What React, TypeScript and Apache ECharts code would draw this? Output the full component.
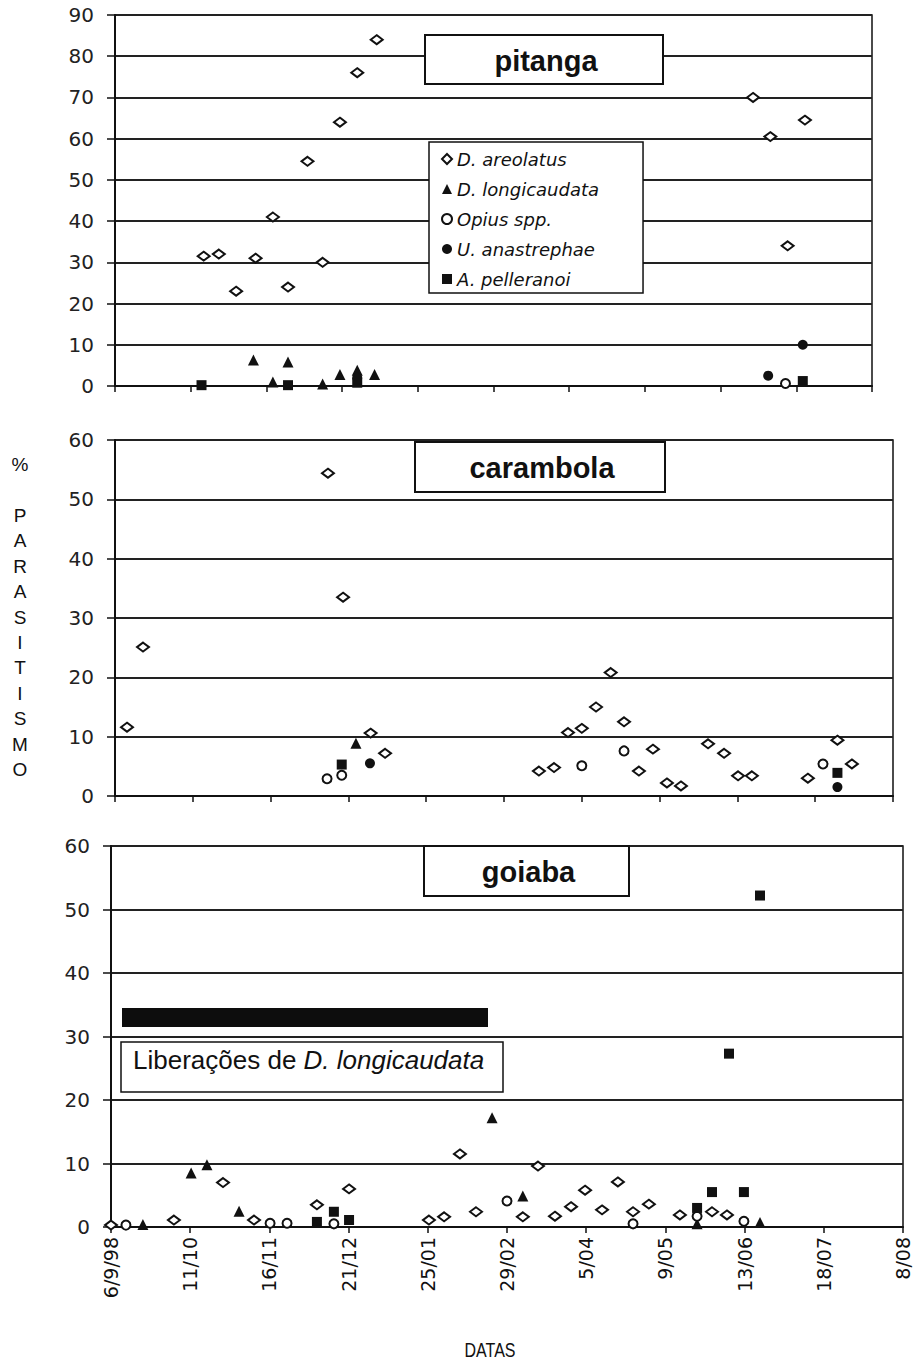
import React, { useEffect, useRef } from 'react';
import * as echarts from 'echarts';

// Tick labels (x axis: days since 6/9/98, one tick every 35 days)
const dateLabels = ['6/9/98', '11/10', '16/11', '21/12', '25/01', '29/02', '5/04', '9/05', '13/06', '18/07', '8/08'];
const seriesNames = ['D. areolatus', 'D. longicaudata', 'Opius spp.', 'U. anastrephae', 'A. pelleranoi'];
const fruitNames = ['pitanga', 'carambola', 'goiaba'];

// pitanga  [day, % parasitism]
const pitAreolatus = [[41, 31.5], [48, 32], [56, 23], [65, 31], [73, 41], [80, 24], [89, 54.5], [96, 30], [104, 64], [112, 76], [121, 84], [295, 70], [303, 60.5], [311, 34], [319, 64.5]];
const pitLongicaudata = [[64, 6.3], [73, 1], [80, 5.8], [96, 0.5], [104, 2.8], [112, 3.8], [120, 2.8]];
const pitOpius = [[310, 0.6]];
const pitAnastrephae = [[112, 2], [302, 2.5], [318, 10]];
const pitPelleranoi = [[40, 0.2], [80, 0.2], [112, 0.8], [318, 1.2]];

// carambola
const carAreolatus = [[5.4, 11.6], [12.6, 25.1], [95.8, 54.4], [102.6, 33.5], [115, 10.6], [121.5, 7.2], [190.7, 4.2], [197.5, 4.8], [203.8, 10.7], [210, 11.4], [216.4, 15], [223, 20.8], [229, 12.5], [235.7, 4.2], [242, 7.9], [248.3, 2.2], [254.6, 1.7], [266.8, 8.8], [274, 7.2], [280.3, 3.4], [286.5, 3.4], [311.7, 3], [325, 9.4], [331.5, 5.4]];
const carLongicaudata = [[108.4, 8.9]];
const carOpius = [[95.4, 2.9], [102, 3.5], [210, 5.1], [229, 7.6], [318.5, 5.4]];
const carAnastrephae = [[114.7, 5.5], [325, 1.5]];
const carPelleranoi = [[102, 5.3], [325, 3.9]];

// goiaba
const goiAreolatus = [[0, 0.3], [27.8, 1.1], [49.5, 7], [63.2, 1.1], [91, 3.5], [105.2, 6], [140.5, 1.1], [147.2, 1.6], [154.2, 11.5], [161.3, 2.4], [182, 1.6], [188.7, 9.6], [196.2, 1.7], [203.3, 3.2], [209.5, 5.8], [217, 2.7], [224, 7.1], [230.7, 2.4], [237.7, 3.6], [251.4, 1.9], [265.6, 2.4], [272.2, 1.9]];
const goiLongicaudata = [[14.1, 0.4], [35.4, 8.5], [42.4, 9.8], [56.6, 2.5], [168.4, 17.2], [182, 4.9], [259, 0.5], [286.8, 0.7]];
const goiOpius = [[6.6, 0.3], [70.3, 0.6], [77.8, 0.6], [98.5, 0.5], [175, 4.1], [230.7, 0.5], [259, 1.7], [279.7, 0.9]];
const goiAnastrephae: number[][] = [];
const goiPelleranoi = [[91, 0.8], [98.5, 2.4], [105.2, 1.1], [259, 3], [265.6, 5.5], [273.1, 27.3], [279.7, 5.5], [286.8, 52.2]];

const yMaxes = [90, 60, 60];

const FONT = '"Liberation Sans", Arial, Helvetica, sans-serif';
const WIDE = '"DejaVu Sans", Verdana, sans-serif';
const INK = '#111';

export default function App() {
  const ref = useRef<HTMLDivElement>(null);
  useEffect(() => {
    document.body.style.margin = '0';
    const chart = echarts.init(ref.current!, null, { renderer: 'svg' });

    const panels = [
      [pitAreolatus, pitLongicaudata, pitOpius, pitAnastrephae, pitPelleranoi],
      [carAreolatus, carLongicaudata, carOpius, carAnastrephae, carPelleranoi],
      [goiAreolatus, goiLongicaudata, goiOpius, goiAnastrephae, goiPelleranoi],
    ];
    const symbols = ['diamond', 'triangle', 'circle', 'circle', 'rect'];
    const sizes: any[] = [[12, 9], 11, 9, 10, 10];
    const styles = [
      { color: '#fff', borderColor: INK, borderWidth: 2, opacity: 1 },
      { color: INK, opacity: 1 },
      { color: '#fff', borderColor: INK, borderWidth: 2, opacity: 1 },
      { color: INK, opacity: 1 },
      { color: INK, opacity: 1 },
    ];

    const grids = [
      { left: 115, right: 49, top: 15, height: 371 },
      { left: 115, right: 28, top: 440, height: 356 },
      { left: 111, right: 18, top: 846, height: 381 },
    ].map((g) => ({ ...g, show: true, borderColor: INK, borderWidth: 1.5, backgroundColor: 'transparent' }));

    const xAxes = grids.map((_, i) => ({
      type: 'value', gridIndex: i, min: 0, max: 350, interval: 35,
      axisLine: { show: true, onZero: false, lineStyle: { color: INK, width: 2 } },
      axisTick: { show: true, length: 6, lineStyle: { color: INK, width: 1.5 } },
      splitLine: { show: false },
      axisLabel: {
        show: i === 2, rotate: 90, margin: 10, fontSize: 19, fontFamily: WIDE, color: INK,
        formatter: (v: number) => dateLabels[Math.round(v / 35)] ?? '',
      },
    }));

    const yAxes = grids.map((_, i) => ({
      type: 'value', gridIndex: i, min: 0, max: yMaxes[i], interval: 10,
      axisLine: { show: true, lineStyle: { color: INK, width: 2 } },
      axisTick: { show: true, length: 8, lineStyle: { color: INK, width: 1.5 } },
      splitLine: { show: true, lineStyle: { color: '#222', width: 1.8 } },
      axisLabel: { margin: 21, fontSize: 20, fontFamily: WIDE, color: '#222' },
    }));

    const series: any[] = [];
    panels.forEach((p, g) => {
      p.forEach((d, k) => {
        series.push({
          name: seriesNames[k], type: 'scatter', xAxisIndex: g, yAxisIndex: g,
          data: d, symbol: symbols[k], symbolSize: sizes[k], itemStyle: styles[k], clip: false, z: 5,
        });
      });
    });

    const titleBoxes = [
      { x: 425, y: 35, w: 238, h: 49 },
      { x: 415, y: 442, w: 250, h: 50 },
      { x: 424, y: 846, w: 205, h: 50 },
    ];
    const graphic: any[] = [];
    titleBoxes.forEach((b, i) => {
      graphic.push({ type: 'rect', shape: { x: b.x, y: b.y, width: b.w, height: b.h }, style: { fill: '#fff', stroke: INK, lineWidth: 2 }, z: 20 });
      graphic.push({
        type: 'text', x: b.x + b.w / 2 + 2, y: b.y + b.h / 2 + 1, z: 21,
        style: { text: fruitNames[i], fontSize: 29, fontWeight: 'bold', fontFamily: FONT, fill: INK, align: 'center', verticalAlign: 'middle', textAlign: 'center', textVerticalAlign: 'middle' },
      });
    });
    // releases bar and box (goiaba)
    graphic.push({ type: 'rect', shape: { x: 122, y: 1008, width: 366, height: 19 }, style: { fill: '#0d0d0d' }, z: 20 });
    graphic.push({ type: 'rect', shape: { x: 121, y: 1042, width: 382, height: 50 }, style: { fill: '#fff', stroke: INK, lineWidth: 1.5 }, z: 20 });
    graphic.push({
      type: 'text', x: 133, y: 1060, z: 21,
      style: {
        text: '{n|Liberações de }{i|D. longicaudata}', verticalAlign: 'middle', textVerticalAlign: 'middle',
        rich: {
          n: { fontSize: 26, fontFamily: FONT, fill: INK, color: INK },
          i: { fontSize: 26, fontFamily: FONT, fontStyle: 'italic', fill: INK, color: INK },
        },
      },
    });
    // Y axis title (vertical letters)
    graphic.push({
      type: 'text', x: 20, y: 452, z: 21,
      style: { text: '%\n\nP\nA\nR\nA\nS\nI\nT\nI\nS\nM\nO', fontSize: 19, fontFamily: FONT, fill: INK, lineHeight: 25.4, align: 'center', textAlign: 'center' },
    });
    graphic.push({
      type: 'text', x: 490, y: 1350, scaleX: 0.8, z: 21,
      style: { text: 'DATAS', fontSize: 20, fontFamily: FONT, fill: INK, align: 'center', verticalAlign: 'middle', textAlign: 'center', textVerticalAlign: 'middle' },
    });

    chart.setOption({
      animation: false,
      backgroundColor: '#fff',
      grid: grids,
      xAxis: xAxes,
      yAxis: yAxes,
      legend: {
        data: seriesNames, orient: 'vertical', left: 429, top: 142,
        backgroundColor: '#fff', borderColor: INK, borderWidth: 1.5,
        padding: [8, 44, 5, 12], itemGap: 12, itemWidth: 10, itemHeight: 10,
        selectedMode: false, z: 20,
        textStyle: { fontStyle: 'italic', fontSize: 18, fontFamily: WIDE, color: INK },
      },
      graphic,
      series,
    });
    return () => chart.dispose();
  }, []);
  return <div ref={ref} style={{ width: 921, height: 1366 }} />;
}
